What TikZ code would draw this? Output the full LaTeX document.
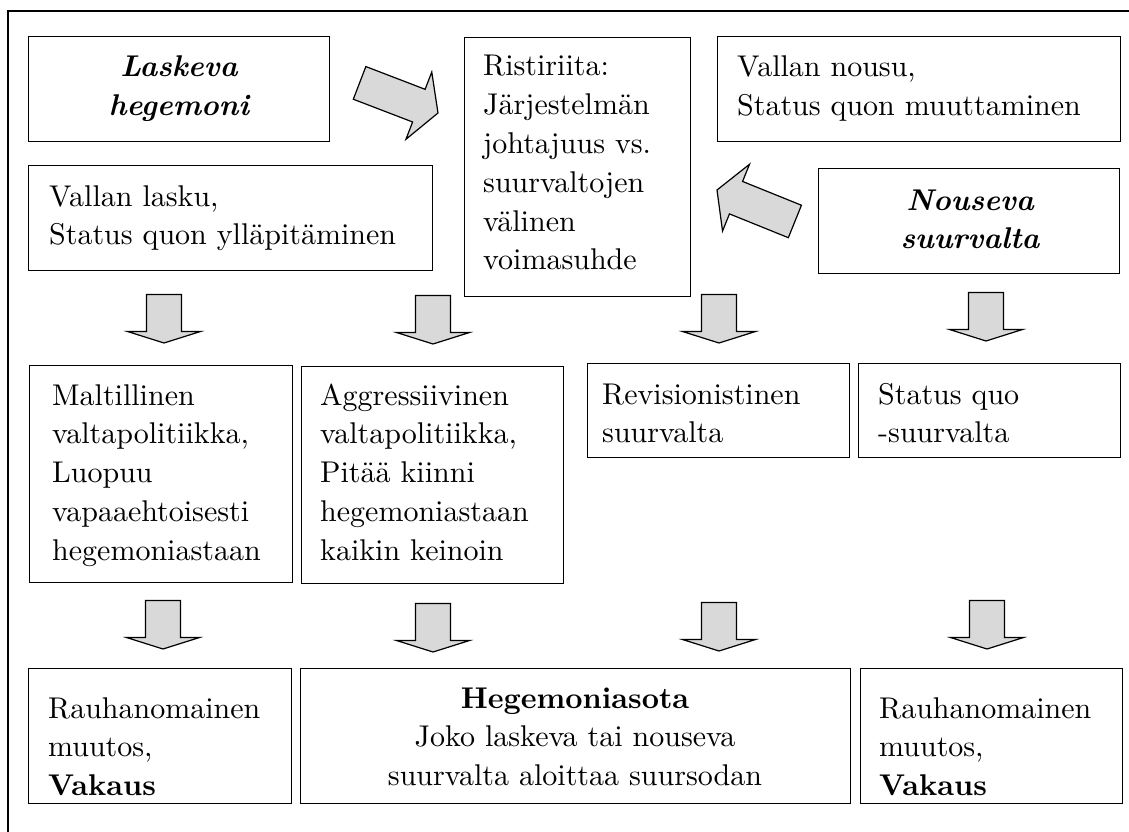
\documentclass[tikz,border=0pt]{standalone}
\usepackage{fontspec}
% the 10pt optical size of Latin Modern, scaled up
\setmainfont{lmroman10-regular.otf}[
  BoldFont=lmroman10-bold.otf,
  ItalicFont=lmroman10-italic.otf,
  BoldItalicFont=lmroman10-bolditalic.otf]
\usetikzlibrary{calc}

% stacked lines whose baseline is the first line
\newcommand\leftlines[1]{\begin{tabular}[t]{@{}l@{}}#1\end{tabular}}
\newcommand\centerlines[1]{\begin{tabular}[t]{@{}c@{}}#1\end{tabular}}

\tikzset{
  frame/.style={draw, line width=1.2pt},
  box/.style={draw, line width=1.2pt, anchor=north west, inner sep=0pt},
  txt/.style={inner sep=0pt, font=\fontsize{30}{38.8}\selectfont},
  lefttxt/.style={txt, anchor=base west},
  midtxt/.style={txt, anchor=base},
  headtxt/.style={midtxt, font=\fontsize{30}{38.5}\selectfont\bfseries\itshape},
  arrowbody/.style={draw, line width=1.2pt, fill=black!15, line join=miter},
  % block arrow pointing along +x, tip at the pic origin
  droparrow/.pic={\path[arrowbody] (-48.5,-17.5) -- (-11.5,-17.5) -- (-11.5,-36.5) -- (0,0)
      -- (-11.5,36.5) -- (-11.5,17.5) -- (-48.5,17.5) -- cycle;},
  slantarrow/.pic={\path[arrowbody] (-84,-17.5) -- (-20.5,-17.5) -- (-20.5,-36) -- (0,0)
      -- (-20.5,36) -- (-20.5,17.5) -- (-84,17.5) -- cycle;},
}

\begin{document}
\begin{tikzpicture}[x=1pt, y=-1pt]
\useasboundingbox (0,0) rectangle (1129,832);
\clip (0,0) rectangle (1129,832);

% outer frame (runs past the right and bottom edges)
\draw[frame] (8,11) rectangle (1150,850);

% top block
\node[box, minimum width=301pt, minimum height=105pt] (lask) at (28,36) {};
\node[headtxt] (laskt) at (179,77) {\centerlines{Laskeva\\hegemoni}};

\node[box, minimum width=404pt, minimum height=105pt] (vlas) at (28,165) {};
\node[lefttxt] (vlast) at (49,206) {\leftlines{Vallan lasku,\\Status quon ylläpitäminen}};

\node[box, minimum width=226pt, minimum height=259pt] (rist) at (464,37) {};
\node[lefttxt] (ristt) at (483,76) {\leftlines{Ristiriita:\\Järjestelmän\\johtajuus vs.\\suurvaltojen\\välinen\\voimasuhde}};

\node[box, minimum width=403pt, minimum height=105pt] (vnou) at (717,36) {};
\node[lefttxt] (vnout) at (737,77) {\leftlines{Vallan nousu,\\Status quon muuttaminen}};

\node[box, minimum width=301pt, minimum height=105pt] (nous) at (818,168) {};
\node[headtxt] (noust) at (970,210) {\centerlines{Nouseva\\suurvalta}};

% slanted arrows towards the conflict box
\pic[rotate=-21] at (438,113) {slantarrow};
\pic[rotate=158] at (717,190) {slantarrow};

% first row of down arrows
\pic[rotate=-90] at (164,343) {droparrow};
\pic[rotate=-90] at (433,344) {droparrow};
\pic[rotate=-90] at (719,343) {droparrow};
\pic[rotate=-90] at (986,341) {droparrow};

% middle block
\node[box, minimum width=263pt, minimum height=217pt] (malt) at (29,365) {};
\node[lefttxt] (maltt) at (52,405) {\leftlines{Maltillinen\\valtapolitiikka,\\Luopuu\\vapaaehtoisesti\\hegemoniastaan}};

\node[box, minimum width=262pt, minimum height=217pt] (aggr) at (301,366) {};
\node[lefttxt] (aggrt) at (320,405) {\leftlines{Aggressiivinen\\valtapolitiikka,\\Pitää kiinni\\hegemoniastaan\\kaikin keinoin}};

\node[box, minimum width=262pt, minimum height=94pt] (revi) at (587,363) {};
\node[lefttxt] (revit) at (602,404) {\leftlines{Revisionistinen\\suurvalta}};

\node[box, minimum width=262pt, minimum height=94pt] (stat) at (858,363) {};
\node[lefttxt] (statt) at (878,404) {\leftlines{Status quo\\-suurvalta}};

% second row of down arrows
\pic[rotate=-90] at (163,649) {droparrow};
\pic[rotate=-90] at (433,652) {droparrow};
\pic[rotate=-90] at (719,651) {droparrow};
\pic[rotate=-90] at (987,649) {droparrow};

% outcomes
\node[box, minimum width=263pt, minimum height=135pt] (rauL) at (28,668) {};
\node[lefttxt] (rauLt) at (48,718) {\leftlines{Rauhanomainen\\muutos,\\\textbf{Vakaus}}};

\node[box, minimum width=550pt, minimum height=135pt] (sota) at (300,668) {};
\node[midtxt] (sotat) at (575,708) {\centerlines{\textbf{Hegemoniasota}\\Joko laskeva tai nouseva\\suurvalta aloittaa suursodan}};

\node[box, minimum width=262pt, minimum height=135pt] (rauR) at (860,668) {};
\node[lefttxt] (rauRt) at (879,718) {\leftlines{Rauhanomainen\\muutos,\\\textbf{Vakaus}}};
\end{tikzpicture}
\end{document}
